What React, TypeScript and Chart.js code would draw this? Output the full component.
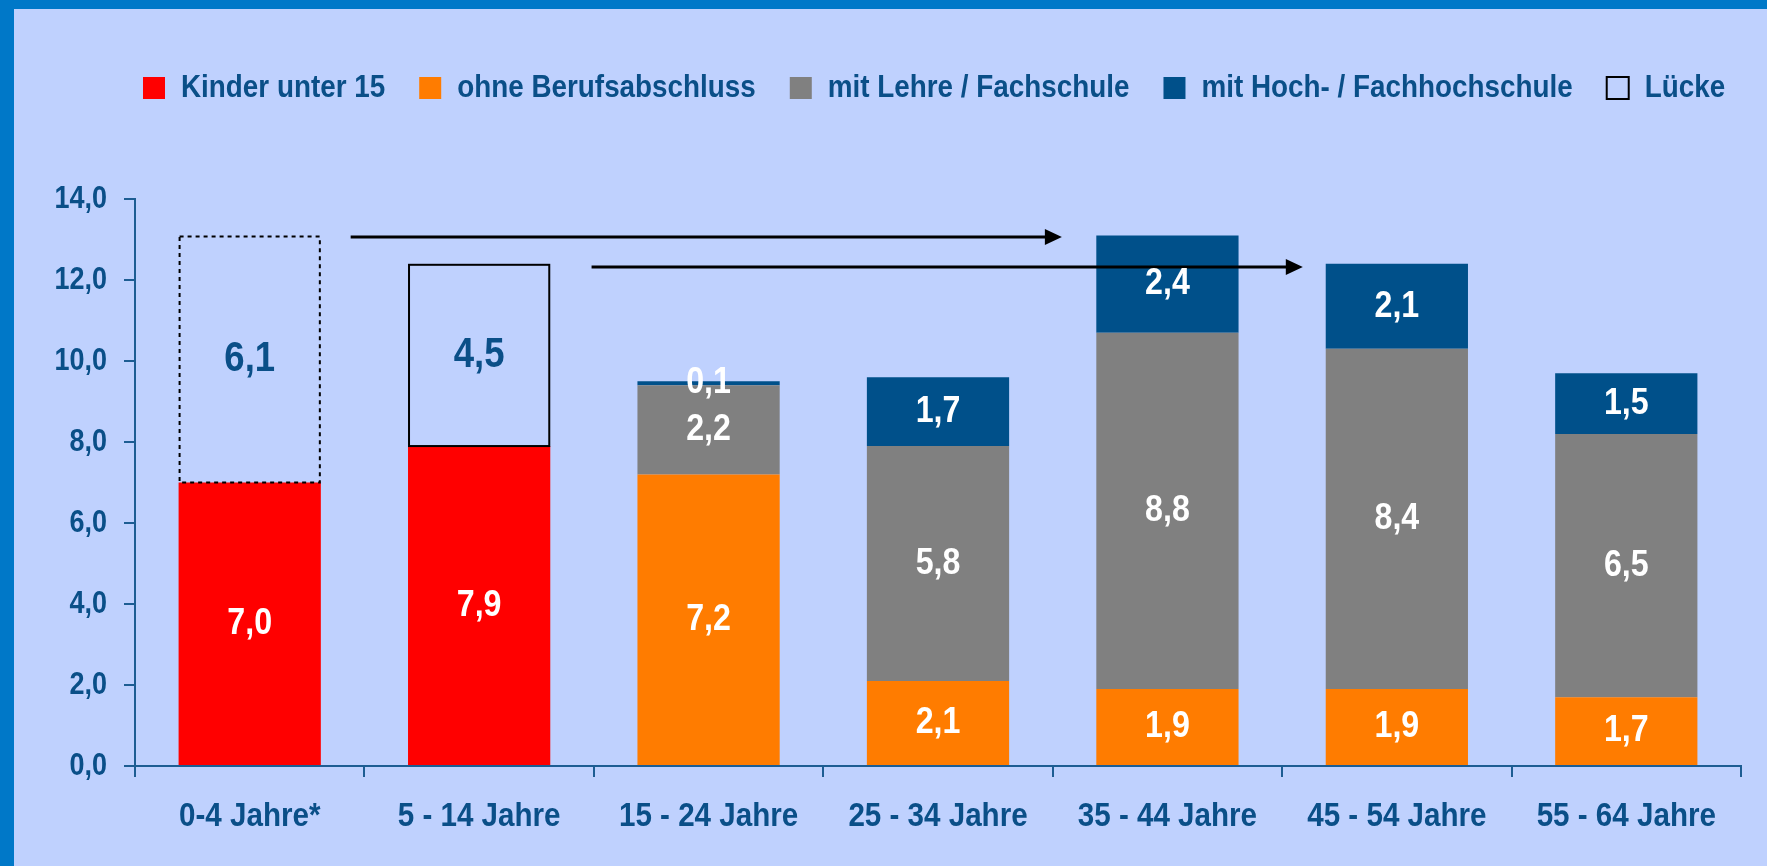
import React, { useEffect, useRef } from "react";
import { Chart, registerables } from "chart.js";

Chart.register(...registerables);

// ---------- data ----------
const categories = [
  "0-4 Jahre*",
  "5 - 14 Jahre",
  "15 - 24 Jahre",
  "25 - 34 Jahre",
  "35 - 44 Jahre",
  "45 - 54 Jahre",
  "55 - 64 Jahre",
];
const seriesNames = [
  "Kinder unter 15",
  "ohne Berufsabschluss",
  "mit Lehre / Fachschule",
  "mit Hoch- / Fachhochschule",
  "Lücke",
];
const kinder = [7.0, 7.9, null, null, null, null, null];
const ohneAbschluss = [null, null, 7.2, 2.1, 1.9, 1.9, 1.7];
const lehre = [null, null, 2.2, 5.8, 8.8, 8.4, 6.5];
const hochschule = [null, null, 0.1, 1.7, 2.4, 2.1, 1.5];
const luecke = [6.1, 4.5, null, null, null, null, null];
const yTickValues = [0, 2, 4, 6, 8, 10, 12, 14];
// arrows (category index units, value units)
const arrowFrom = [0.44, 1.49];
const arrowTo = [3.54, 4.59];
const arrowY = [13.06, 12.32];

// ---------- styles ----------
const FONT = '"Liberation Sans", Arial, sans-serif';
const SX = 0.87; // horizontal condensing of all canvas text (Arial Narrow look)
const TEXT = "#0A4F88";
const AXIS = "#1D5D93";
const FRAME = "#0078C8";
const BG = "#BFD1FE";
const colors = ["#FF0000", "#FF7C00", "#808080", "#00508A", "rgba(0,0,0,0)"];

const fmt = (v: number) => v.toFixed(1).replace(".", ",");

const W = 1767;
const H = 866;
const PAD_LEFT = 14;
const PAD_TOP = 38;
const AREA_TOP = 199;
const AREA_LEFT = 135;
const AREA_BOTTOM = 766;
const LEGEND_START = 143;

function condenseContext(ctx: any) {
  if (ctx.__condensed) return;
  ctx.__condensed = true;
  const origFill = ctx.fillText.bind(ctx);
  const origMeasure = ctx.measureText.bind(ctx);
  ctx.fillText = (text: string, x: number, y: number) => {
    ctx.save();
    ctx.translate(x, y);
    ctx.scale(SX, 1);
    origFill(text, 0, 0);
    ctx.restore();
  };
  ctx.measureText = (text: string) => {
    const m = origMeasure(text);
    return {
      width: m.width * SX,
      actualBoundingBoxAscent: m.actualBoundingBoxAscent,
      actualBoundingBoxDescent: m.actualBoundingBoxDescent,
      actualBoundingBoxLeft: m.actualBoundingBoxLeft * SX,
      actualBoundingBoxRight: m.actualBoundingBoxRight * SX,
      fontBoundingBoxAscent: m.fontBoundingBoxAscent,
      fontBoundingBoxDescent: m.fontBoundingBoxDescent,
    };
  };
}

const luckeBorderPlugin = {
  id: "luckeBorder",
  afterDatasetsDraw(chart: any) {
    const meta = chart.getDatasetMeta(4);
    const ctx = chart.ctx;
    meta.data.forEach((el: any, i: number) => {
      if (luecke[i] == null) return;
      const { x, y, base, width } = el.getProps(["x", "y", "base", "width"], true);
      ctx.save();
      ctx.strokeStyle = "#000";
      ctx.lineWidth = 2;
      ctx.setLineDash(i === 0 ? [4, 4] : []);
      ctx.strokeRect(x - width / 2 + 1, y + 1, width - 2, base - y - 1);
      ctx.restore();
    });
  },
};

const arrowPlugin = {
  id: "arrows",
  afterDatasetsDraw(chart: any) {
    const ctx = chart.ctx;
    const xs = chart.scales.x;
    const ys = chart.scales.y;
    arrowFrom.forEach((f, i) => {
      const x1 = xs.getPixelForValue(f);
      const x2 = xs.getPixelForValue(arrowTo[i]);
      const y = ys.getPixelForValue(arrowY[i]);
      ctx.save();
      ctx.strokeStyle = "#000";
      ctx.fillStyle = "#000";
      ctx.lineWidth = 3;
      ctx.beginPath();
      ctx.moveTo(x1, y);
      ctx.lineTo(x2 - 14, y);
      ctx.stroke();
      ctx.beginPath();
      ctx.moveTo(x2, y);
      ctx.lineTo(x2 - 17, y - 8);
      ctx.lineTo(x2 - 17, y + 8);
      ctx.closePath();
      ctx.fill();
      ctx.restore();
    });
  },
};

const valueLabelPlugin = {
  id: "valueLabels",
  afterDatasetsDraw(chart: any) {
    const ctx = chart.ctx;
    chart.data.datasets.forEach((ds: any, di: number) => {
      const meta = chart.getDatasetMeta(di);
      meta.data.forEach((el: any, i: number) => {
        const v = ds.data[i];
        if (v == null) return;
        const { x, y, base } = el.getProps(["x", "y", "base"], true);
        const isGap = di === 4;
        ctx.save();
        ctx.font = `bold ${isGap ? 42 : 37}px ${FONT}`;
        ctx.fillStyle = isGap ? TEXT : "#FFFFFF";
        ctx.textAlign = "center";
        ctx.textBaseline = "middle";
        ctx.fillText(fmt(v), x, (y + base) / 2);
        ctx.restore();
      });
    });
  },
};

const legendLayoutPlugin = {
  id: "legendLayout",
  beforeInit(chart: any) {
    const legend = chart.legend;
    if (!legend) return;
    const orig = legend.fit;
    legend.fit = function () {
      const mw = this.maxWidth;
      this.maxWidth = mw + 400; // keep all items in one row
      orig.call(this);
      this.maxWidth = mw;
      this.width = mw;
      this.height = AREA_TOP - PAD_TOP;
    };
  },
  afterLayout(chart: any) {
    const legend = chart.legend;
    if (!legend || !legend.lineWidths) return;
    const p = legend.options.labels.padding;
    const right = W + 40;
    legend.right = right;
    legend.left = 2 * LEGEND_START - p - right + legend.lineWidths[0];
  },
};

export default function App() {
  const ref = useRef<HTMLCanvasElement | null>(null);

  useEffect(() => {
    if (!ref.current) return;
    const ctx2d = ref.current.getContext("2d");
    condenseContext(ctx2d);
    const data = [kinder, ohneAbschluss, lehre, hochschule, luecke];
    const chart = new Chart(ref.current, {
      type: "bar",
      data: {
        labels: categories,
        datasets: data.map((d, i) => ({
          label: seriesNames[i],
          data: d,
          backgroundColor: colors[i],
          borderWidth: 0,
          barPercentage: 0.62,
          categoryPercentage: 1,
        })),
      },
      plugins: [legendLayoutPlugin, luckeBorderPlugin, arrowPlugin, valueLabelPlugin],
      options: {
        responsive: false,
        animation: false,
        devicePixelRatio: 1,
        layout: { padding: { left: PAD_LEFT, right: 26, top: PAD_TOP, bottom: 0 } },
        plugins: {
          tooltip: { enabled: false },
          legend: {
            position: "top",
            align: "center",
            labels: {
              boxWidth: 22,
              boxHeight: 22,
              padding: 34,
              color: TEXT,
              font: { family: FONT, size: 32, weight: "bold" },
              generateLabels: (c: any) => {
                const items = Chart.defaults.plugins.legend.labels.generateLabels(c);
                items.forEach((it: any) => {
                  if (it.datasetIndex === 4) {
                    it.lineWidth = 2;
                    it.strokeStyle = "#000";
                    it.fillStyle = "rgba(0,0,0,0)";
                  } else {
                    it.lineWidth = 0;
                  }
                });
                return items;
              },
            },
          },
        },
        scales: {
          x: {
            stacked: true,
            offset: true,
            afterFit: (s: any) => {
              s.height = H - AREA_BOTTOM;
            },
            grid: {
              display: true,
              offset: true,
              drawOnChartArea: false,
              drawTicks: true,
              tickLength: 11,
              color: AXIS,
              lineWidth: 2,
            },
            border: { display: true, color: AXIS, width: 2 },
            ticks: {
              color: TEXT,
              padding: 19,
              font: { family: FONT, size: 34, weight: "bold" },
              maxRotation: 0,
              autoSkip: false,
            },
          },
          y: {
            stacked: true,
            min: 0,
            max: 14,
            afterFit: (s: any) => {
              s.width = AREA_LEFT - PAD_LEFT;
            },
            afterBuildTicks: (s: any) => {
              s.ticks = yTickValues.map((v) => ({ value: v }));
            },
            grid: {
              display: true,
              drawOnChartArea: false,
              drawTicks: true,
              tickLength: 11,
              color: AXIS,
              lineWidth: 2,
            },
            border: { display: true, color: AXIS, width: 2 },
            ticks: {
              color: TEXT,
              padding: 17,
              autoSkip: false,
              font: { family: FONT, size: 31, weight: "bold" },
              callback: (v: any) => fmt(Number(v)),
            },
          },
        },
      },
    });
    return () => chart.destroy();
  }, []);

  return (
    <div
      style={{
        position: "fixed",
        left: 0,
        top: 0,
        width: W,
        height: H,
        background: FRAME,
        overflow: "hidden",
      }}
    >
      <div
        style={{
          position: "absolute",
          left: 14,
          top: 9,
          right: 0,
          bottom: 0,
          background: BG,
        }}
      />
      <canvas
        ref={ref}
        width={W}
        height={H}
        style={{ position: "absolute", left: 0, top: 0, width: W, height: H }}
      />
    </div>
  );
}
